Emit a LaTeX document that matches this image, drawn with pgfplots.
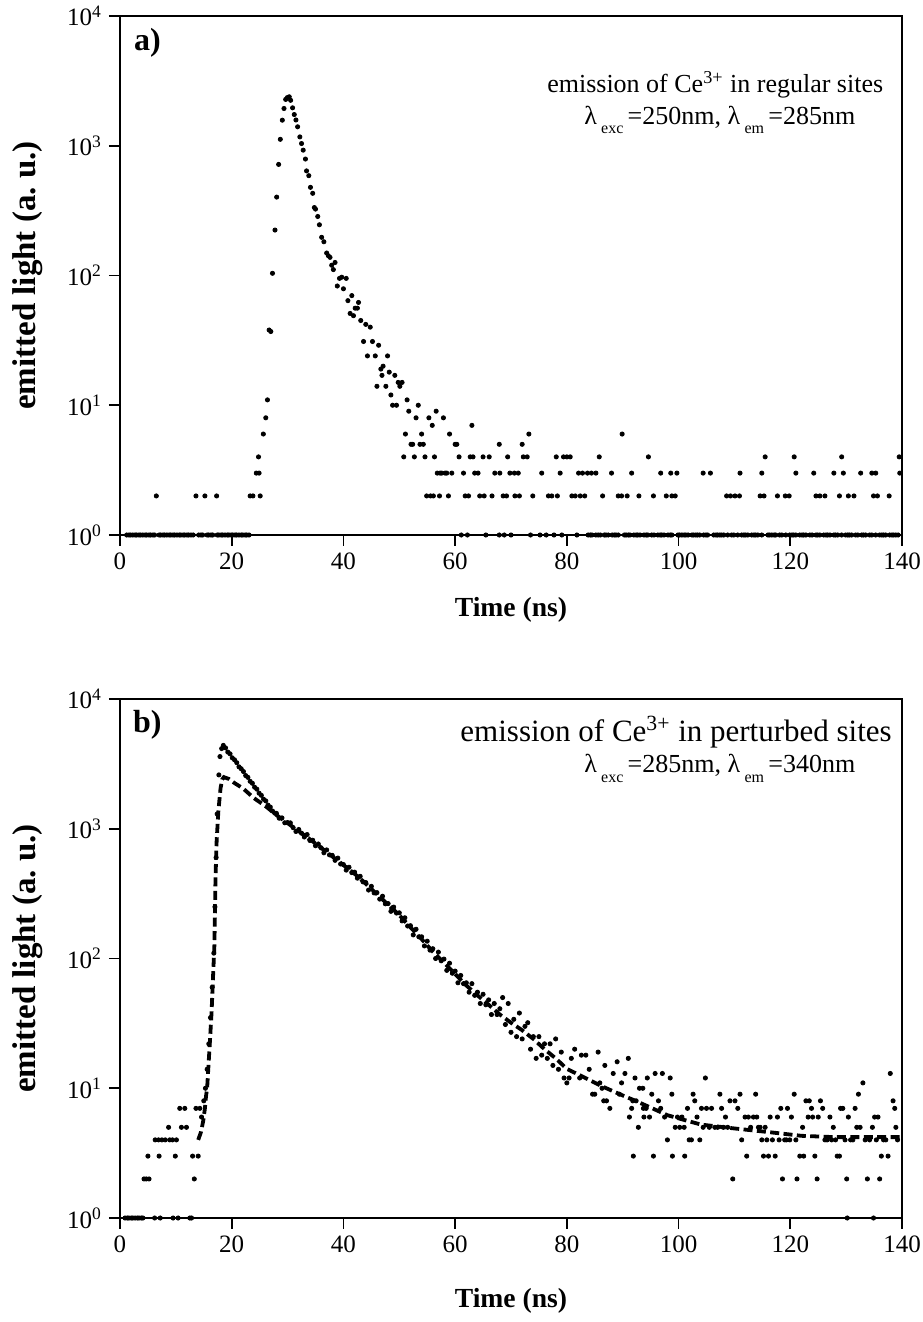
\documentclass[border=0pt]{standalone}
\usepackage{fontspec}
\setmainfont{Liberation Serif}
\usepackage{pgfplots}
\pgfplotsset{compat=1.18}

\pgfplotstableread{
x y
1.2 1
1.6 1
1.9 1
2.3 1
2.7 1
3.0 1
3.4 1
3.7 1
4.1 1
4.5 1
4.8 1
5.2 1
5.5 1
5.9 1
6.2 1
7.0 1
7.3 1
7.7 1
8.0 1
8.4 1
8.8 1
9.1 1
9.5 1
9.8 1
10.2 1
10.6 1
10.9 1
11.3 1
11.6 1
12.0 1
12.3 1
12.7 1
13.1 1
14.1 1
14.5 1
14.8 1
15.6 1
15.9 1
16.3 1
16.6 1
17.4 1
17.7 1
18.1 1
18.4 1
18.8 1
19.2 1
19.5 1
19.9 1
20.2 1
20.6 1
20.9 1
21.3 1
21.7 1
22.0 1
22.4 1
22.7 1
23.1 1
6.5 2
13.6 2
15.2 2
17.3 2
23.3 2
23.8 2
25.1 2
24.4 3
24.9 3
24.8 4
25.66 6
26.1 8
26.4 11
26.7 38
27.0 37
27.3 104
27.75 224
28.05 402
28.4 718
28.7 1121
29.06 1574
29.36 1937
29.66 2275
29.96 2350
30.3 2384
30.55 2240
30.9 1960
31.2 1740
31.5 1580
31.8 1400
32.2 1170
32.5 1040
32.8 925
33.2 790
33.4 640
33.8 588
34.1 478
34.5 430
34.8 334
35.0 325
35.4 285
35.7 246
36.1 197
36.5 182
37.0 149
37.3 142
37.6 138
37.9 120
38.2 111
38.5 126
38.9 83
39.3 95
39.7 97
40.0 79
40.5 95
40.8 64
41.2 51
41.5 70
41.8 49
42.1 56
42.5 56
42.7 62
43.1 45
43.6 31
44.0 42
44.3 24
44.8 40
45.2 31
45.7 24
46.0 14
46.3 29
46.7 19
46.9 17
47.1 20
47.6 14
47.9 24
48.2 18
48.5 12
48.8 10
49.2 17
49.5 10
49.8 15
50.1 14
50.5 15
50.8 4
51.1 6
51.4 11
51.7 9
52.1 5
52.4 5
52.7 4
53.0 8
53.4 10
53.7 5
54.0 6
54.3 5
54.6 4
54.9 2
55.3 8
55.6 2
55.9 7
56.1 2
56.3 4
56.6 9
56.8 3
57.2 2
57.3 3
57.6 3
57.9 8
58.2 3
58.5 3
58.8 2
59.0 6
59.4 3
60.0 5
60.3 5
60.7 4
61.5 3
61.8 2
62.4 2
62.7 4
63.0 7
63.2 4
63.5 3
64.1 3
64.4 2
65.0 4
65.2 2
66.1 4
66.6 2
67.1 3
67.9 5
68.0 3
68.6 2
69.2 2
69.4 4
69.8 3
70.6 3
70.7 2
71.3 3
71.5 2
72.0 5
72.2 4
72.9 4
73.2 6
73.9 2
75.5 3
76.7 2
77.3 2
78.1 4
78.3 2
78.8 3
79.4 4
80.0 4
80.6 4
80.9 2
81.5 2
82.1 3
82.4 2
82.8 3
83.2 2
83.7 3
84.4 3
85.2 3
85.8 4
86.4 2
88.0 3
89.2 2
89.8 2
89.9 6
90.8 2
91.6 3
92.9 2
94.6 4
95.5 2
96.8 3
97.8 2
98.6 3
98.8 2
99.4 2
99.7 3
104.4 3
105.7 3
108.6 2
109.3 2
110.1 2
110.9 2
111.0 3
114.6 2
114.9 3
115.3 2
115.5 4
117.7 2
119.1 2
119.8 2
120.7 4
121.0 3
124.2 3
124.6 2
125.3 2
126.2 2
127.8 3
128.8 2
129.2 4
129.5 3
130.4 2
131.4 2
132.6 3
134.6 3
134.9 2
135.3 3
135.6 2
137.7 2
139.5 4
139.6 3
61.1 1
62.2 1
65.5 1
67.9 1
68.8 1
70.0 1
73.5 1
75.2 1
76.3 1
77.7 1
79.1 1
81.8 1
83.8 1
84.2 1
84.5 1
85.2 1
85.6 1
86.0 1
86.7 1
87.0 1
87.4 1
88.1 1
88.5 1
88.8 1
89.2 1
90.3 1
90.6 1
91.0 1
91.3 1
92.0 1
92.4 1
92.7 1
93.1 1
93.8 1
94.2 1
94.5 1
95.2 1
95.6 1
96.3 1
96.7 1
97.0 1
97.4 1
98.1 1
98.5 1
98.8 1
99.9 1
100.2 1
100.6 1
101.0 1
101.3 1
101.7 1
102.4 1
102.7 1
103.1 1
103.4 1
103.8 1
104.5 1
104.9 1
105.2 1
106.3 1
106.7 1
107.0 1
107.4 1
107.7 1
108.1 1
108.8 1
109.5 1
109.9 1
110.6 1
111.3 1
111.7 1
112.0 1
112.4 1
113.1 1
113.5 1
113.8 1
114.2 1
114.9 1
116.0 1
116.3 1
116.7 1
117.1 1
117.4 1
118.1 1
118.5 1
119.2 1
119.9 1
120.3 1
120.6 1
121.0 1
121.7 1
122.1 1
122.4 1
122.8 1
123.5 1
123.9 1
124.6 1
124.9 1
125.3 1
126.0 1
126.4 1
126.7 1
127.1 1
127.8 1
128.1 1
128.5 1
129.2 1
129.9 1
130.3 1
130.6 1
131.0 1
131.7 1
132.1 1
132.8 1
133.1 1
133.5 1
134.2 1
134.6 1
135.3 1
136.0 1
136.4 1
136.7 1
137.1 1
137.8 1
138.2 1
138.5 1
138.9 1
139.3 1
}\regulartab

\pgfplotstableread{
x y
0.9 1
1.3 1
1.6 1
2.0 1
2.3 1
2.7 1
3.1 1
3.4 1
3.8 1
4.1 1
6.2 1
7.2 1
9.5 1
10.4 1
12.5 1
12.8 1
130.2 1
134.9 1
4.3 2
4.7 2
5.2 2
13.3 2
5.0 3
7.0 3
9.9 3
13.0 3
14.0 3
6.3 4
6.9 4
7.5 4
8.1 4
8.9 4
9.4 4
10.1 4
8.7 5
11.0 5
11.9 5
10.7 7
11.6 7
13.6 7
14.3 7
14.6 6
15.0 8
15.3 10
15.6 14
15.9 22
16.2 35
16.5 60
16.8 110
17.0 250
17.2 600
17.4 1300
17.7 2600
17.9 3600
18.2 4150
18.5 4390
18.9 4200
19.3 3900
19.7 3780
20.1 3520
20.5 3400
20.9 3230
21.3 3000
21.7 2900
22.1 2760
22.5 2570
22.9 2490
23.3 2320
23.7 2240
24.1 2090
24.5 2020
24.9 1880
25.3 1810
25.7 1690
26.1 1640
26.5 1520
26.9 1470
27.3 1370
27.7 1320
28.0 1314
28.5 1206
29.0 1212
29.5 1112
30.0 1117
30.5 1110
31.0 1019
31.5 953
32.0 987
32.5 924
33.0 864
33.5 902
34.0 812
34.5 816
35.0 740
35.5 763
36.0 713
36.5 653
37.0 687
37.5 629
38.0 624
38.5 571
39.0 594
39.5 535
40.0 530
40.5 480
41.0 505
41.5 459
42.0 463
42.5 416
43.0 430
43.5 390
44.0 385
44.5 337
45.0 360
45.5 320
46.0 322
46.5 287
47.0 302
47.5 264
48.0 265
48.5 231
49.0 249
49.5 224
50.0 225
50.5 195
51.0 206
51.5 178
52.0 179
52.5 152
53.0 168
53.5 147
54.0 147
54.5 125
55.0 136
55.5 116
56.0 119
56.5 100
57.0 112
57.5 96
58.0 99
58.5 81
59.0 92
59.5 77
60.0 80
60.5 65
61.0 74
61.5 64
62.0 65
62.5 55
63.0 64
63.5 52
64.0 55
64.5 45
65.0 53
65.5 44
66.0 48
66.5 37
67.0 45
67.5 37
68.0 41
68.5 50
69.0 31
69.5 45
70.0 27
70.5 34
71.0 25
71.5 38
72.0 24
72.5 30
73.0 32
73.5 20
74.0 25
74.5 17
75.0 25
75.5 18
76.0 22
76.5 17
77.0 22
77.5 15
78.0 24
78.5 14
79.0 19
79.5 12
80.0 11
80.4 12
80.8 17
81.4 20
82.3 12
82.6 18
83.4 18
84.0 14
84.6 9
85.0 9
85.6 19
85.9 11
86.3 10
86.6 8
86.8 15
87.1 8
87.7 7
88.3 13
89.0 16
89.4 9
89.8 11
90.4 13
91.0 17
91.2 6
91.6 7
91.8 8
91.9 3
92.2 12
92.4 8
92.8 5
93.0 10
93.6 10
93.7 7
93.8 6
94.2 7
94.4 12
94.8 6
95.2 9
95.5 3
95.8 13
96.4 8
96.8 7
97.1 13
97.5 6
98.0 4
98.5 12
98.8 9
98.9 3
99.4 5
99.8 6
100.2 5
100.6 6
101.0 5
101.1 3
101.6 7
101.9 4
102.3 4
102.6 9
102.9 8
103.3 6
103.8 4
104.1 7
104.4 5
104.8 12
105.0 7
105.5 5
105.9 7
106.5 5
107.0 5
107.4 9
107.7 7
108.0 5
108.4 6
108.8 5
109.2 8
109.7 2
110.1 8
110.6 7
111.0 9
111.3 4
111.9 6
112.2 3
112.5 6
112.9 5
113.4 6
113.8 9
114.0 6
114.3 5
114.6 5
114.9 4
115.2 3
115.5 5
115.8 4
116.1 3
116.4 6
116.8 4
117.3 3
117.7 6
118.0 4
118.3 7
118.6 2
119.0 4
119.3 4
119.5 7
119.9 4
120.2 6
120.7 9
121.0 4
121.2 2
121.7 3
122.2 5
122.4 3
122.8 8
123.2 6
123.4 8
123.8 7
124.0 6
124.4 3
124.8 2
125.0 6
125.4 8
125.8 7
126.2 4
126.6 4
127.1 6
127.4 4
127.7 5
128.1 4
128.4 3
128.8 3
129.0 7
129.4 7
129.8 4
130.1 2
130.4 6
130.8 4
131.2 4
131.6 7
131.9 5
132.2 9
132.5 5
133.0 11
133.4 4
133.8 2
134.2 4
134.7 5
135.1 6
135.4 4
135.7 6
136.0 2
136.3 3
136.7 4
137.1 4
137.5 3
137.9 13
138.4 8
138.7 7
138.9 5
139.2 4
}\perturbedtab

\pgfplotstableread{
x y
14.0 4.0
14.5 4.6
14.9 5.6
15.2 7
15.4 8.7
15.6 10
15.8 14
16.1 23
16.4 39
16.7 80
16.9 126
17.0 230
17.1 420
17.3 800
17.6 1350
18.0 2050
18.3 2400
18.6 2500
19.5 2420
20.5 2250
22 2050
24 1720
26 1500
28 1276
30 1106
32 958
34 829
36 713
38 612
40 525
42 450
44 377
46 313
48 260
50 216
52 174
54 141
56 113
58 93
60 76
62 62
64 52
66 44
68 37
70 32
72 28
74 24
76 20
78 17
80 14.1
82 12.8
84 11.6
86 10.5
88 9.6
90 8.8
92 8.1
95 7.1
98 6.2
101 5.7
104 5.25
110 4.9
116 4.6
122 4.3
128 4.2
134 4.2
140 4.2
}\fittab

\begin{document}
\begin{tikzpicture}
\useasboundingbox (-60pt,-393.5pt) rectangle (401pt,267.5pt);
\begin{semilogyaxis}[
    at={(0pt,0pt)}, anchor=south west,
    scale only axis, width=391pt, height=259.5pt,
    xmin=0, xmax=140, ymin=1, ymax=10000,
    xtick={0,20,40,60,80,100,120,140},
    xticklabels={0,20,40,60,80,100,120,140},
    ytick={1,10,100,1000,10000},
    yticklabels={10\textsuperscript{0},10\textsuperscript{1},10\textsuperscript{2},10\textsuperscript{3},10\textsuperscript{4}},
    yminorticks=false,
    tick align=outside, xtick pos=bottom, ytick pos=left,
    major tick length=5.5pt,
    axis line style={line width=1pt},
    tick style={black, line width=0.9pt},
    tick label style={font=\fontsize{12.5}{13}\selectfont},
    xlabel={Time (ns)}, ylabel={emitted light (a.\ u.)},
    xlabel style={font=\fontsize{13.8}{14}\selectfont\bfseries, at={(axis description cs:0.5,-0.1445)}, anchor=center},
    ylabel style={font=\fontsize{16.5}{17}\selectfont\bfseries, at={(axis description cs:-0.118,0.5)}, anchor=center},
    clip=false,
]
\addplot[only marks, mark=*, mark size=1.05pt, black] table {\regulartab};
\node[font=\fontsize{16}{16}\selectfont\bfseries] at (rel axis cs:0.035,0.948) {a)};
\node[anchor=east, font=\fontsize{13}{15}\selectfont] at (rel axis cs:0.985,0.868) {emission of Ce\textsuperscript{3+} in regular sites};
\node[font=\fontsize{13}{15}\selectfont] at (rel axis cs:0.767,0.80) {λ\,\raisebox{-0.8ex}{\footnotesize exc}\,=250nm, λ\,\raisebox{-0.8ex}{\footnotesize em}\,=285nm};
\end{semilogyaxis}
\begin{semilogyaxis}[
    at={(0pt,-341.5pt)}, anchor=south west,
    scale only axis, width=391pt, height=259.5pt,
    xmin=0, xmax=140, ymin=1, ymax=10000,
    xtick={0,20,40,60,80,100,120,140},
    xticklabels={0,20,40,60,80,100,120,140},
    ytick={1,10,100,1000,10000},
    yticklabels={10\textsuperscript{0},10\textsuperscript{1},10\textsuperscript{2},10\textsuperscript{3},10\textsuperscript{4}},
    yminorticks=false,
    tick align=outside, xtick pos=bottom, ytick pos=left,
    major tick length=5.5pt,
    axis line style={line width=1pt},
    tick style={black, line width=0.9pt},
    tick label style={font=\fontsize{12.5}{13}\selectfont},
    xlabel={Time (ns)}, ylabel={emitted light (a.\ u.)},
    xlabel style={font=\fontsize{13.8}{14}\selectfont\bfseries, at={(axis description cs:0.5,-0.16)}, anchor=center},
    ylabel style={font=\fontsize{16.5}{17}\selectfont\bfseries, at={(axis description cs:-0.118,0.5)}, anchor=center},
    clip=false,
]
\addplot[black, line width=1.9pt, dash pattern=on 4.5pt off 2.2pt] table {\fittab};
\addplot[only marks, mark=*, mark size=1.05pt, black] table {\perturbedtab};
\node[font=\fontsize{16}{16}\selectfont\bfseries] at (rel axis cs:0.035,0.95) {b)};
\node[anchor=east, font=\fontsize{15.5}{17}\selectfont] at (rel axis cs:0.996,0.936) {emission of Ce\textsuperscript{3+} in perturbed sites};
\node[font=\fontsize{13}{15}\selectfont] at (rel axis cs:0.767,0.866) {λ\,\raisebox{-0.8ex}{\footnotesize exc}\,=285nm, λ\,\raisebox{-0.8ex}{\footnotesize em}\,=340nm};
\end{semilogyaxis}
\end{tikzpicture}
\end{document}
